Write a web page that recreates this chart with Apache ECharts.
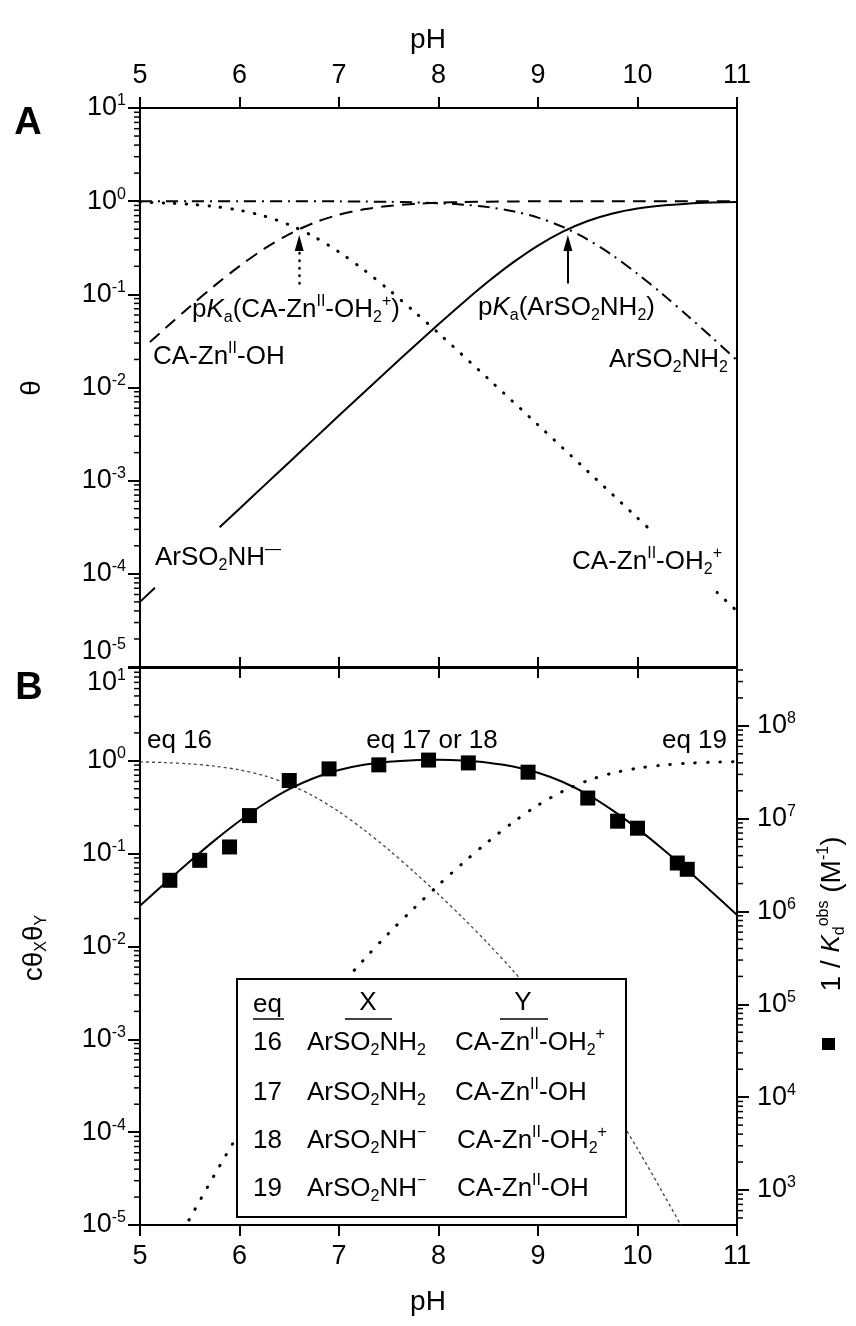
<!DOCTYPE html>
<html><head><meta charset="utf-8">
<script src="https://cdn.jsdelivr.net/npm/echarts@6/dist/echarts.min.js"></script>
<style>html,body{margin:0;padding:0;background:#fff}#c{width:856px;height:1326px}</style>
</head><body><div id="c"></div>
<script>
// ---------- DATA ----------
const xTicks = [5, 6, 7, 8, 9, 10, 11];
const yTicksTheta = [1e-5, 1e-4, 1e-3, 1e-2, 1e-1, 1, 10];
const yTicksK = [1e3, 1e4, 1e5, 1e6, 1e7, 1e8];

// Panel A: fractions theta vs pH
const pH_NHm = [5.0, 5.15, 5.5, 5.8, 6.0, 6.25, 6.5, 6.75, 7.0, 7.25, 7.5, 7.75, 8.0, 8.25, 8.5, 8.75, 9.0, 9.25, 9.5, 9.75, 10.0, 10.25, 10.5, 10.75, 11.0];
const th_NHm = [5.0e-5, 7.1e-5, null, 3.16e-4, 5.0e-4, 8.9e-4, 1.58e-3, 2.81e-3, 5.0e-3, 8.83e-3, 0.0156, 0.0274, 0.0477, 0.0818, 0.137, 0.220, 0.334, 0.471, 0.613, 0.738, 0.834, 0.899, 0.941, 0.966, 0.980];

const pH_NH2 = [5.0, 5.5, 6.0, 6.5, 7.0, 7.25, 7.5, 7.75, 8.0, 8.25, 8.5, 8.75, 9.0, 9.25, 9.5, 9.75, 10.0, 10.25, 10.5, 10.75, 11.0];
const th_NH2 = [1.0, 0.9998, 0.9995, 0.998, 0.995, 0.991, 0.984, 0.973, 0.952, 0.918, 0.863, 0.780, 0.666, 0.529, 0.387, 0.262, 0.166, 0.101, 0.0594, 0.0343, 0.0196];

const pH_ZnOH = [5.1, 5.25, 5.5, 5.75, 6.0, 6.25, 6.5, 6.75, 7.0, 7.25, 7.5, 7.75, 8.0, 8.25, 8.5, 8.75, 9.0, 9.5, 10.0, 10.5, 11.0];
const th_ZnOH = [0.0307, 0.0428, 0.0736, 0.124, 0.201, 0.309, 0.443, 0.586, 0.715, 0.817, 0.888, 0.934, 0.962, 0.978, 0.988, 0.993, 0.996, 0.999, 1.0, 1.0, 1.0];

const pH_ZnOH2 = [5.0, 5.25, 5.5, 5.75, 6.0, 6.25, 6.5, 6.75, 7.0, 7.25, 7.5, 7.75, 8.0, 8.5, 9.0, 9.5, 10.0, 10.1, 10.45, 10.8, 11.0];
const th_ZnOH2 = [0.975, 0.957, 0.926, 0.876, 0.799, 0.691, 0.557, 0.415, 0.285, 0.183, 0.112, 0.0661, 0.0383, 0.0124, 3.97e-3, 1.26e-3, 3.98e-4, 3.16e-4, null, 6.31e-5, 3.98e-5];

// Panel B
const pH_fit = [5.0, 5.25, 5.5, 5.75, 6.0, 6.25, 6.5, 6.75, 7.0, 7.25, 7.5, 7.75, 8.0, 8.25, 8.5, 8.75, 9.0, 9.25, 9.5, 9.75, 10.0, 10.25, 10.5, 10.75, 11.0];
const fitB = [0.0274, 0.0479, 0.0824, 0.139, 0.225, 0.345, 0.495, 0.654, 0.797, 0.907, 0.979, 1.017, 1.026, 1.006, 0.955, 0.868, 0.743, 0.591, 0.433, 0.293, 0.186, 0.113, 0.0665, 0.0384, 0.0219];

const pH_eq16 = [5.0, 5.25, 5.5, 5.75, 6.0, 6.25, 6.5, 6.75, 7.0, 7.25, 7.5, 7.75, 8.0, 8.25, 8.5, 8.75, 9.0, 9.25, 9.5, 9.75, 10.0, 10.25, 10.5];
const eq16 = [0.976, 0.957, 0.926, 0.876, 0.799, 0.691, 0.556, 0.413, 0.283, 0.181, 0.110, 0.0643, 0.0365, 0.0201, 0.0107, 5.48e-3, 2.64e-3, 1.18e-3, 4.87e-4, 1.85e-4, 6.62e-5, 2.26e-5, 7.5e-6];

const pH_eq19 = [5.25, 5.5, 5.75, 6.0, 6.25, 6.5, 6.75, 7.0, 7.25, 7.5, 7.75, 8.0, 8.25, 8.5, 8.75, 9.0, 9.25, 9.5, 9.75, 10.0, 10.25, 10.5, 10.75, 11.0];
const eq19 = [3.8e-6, 1.17e-5, 3.49e-5, 1.00e-4, 2.75e-4, 7.01e-4, 1.65e-3, 3.58e-3, 7.22e-3, 0.0139, 0.0256, 0.0459, 0.080, 0.135, 0.218, 0.333, 0.470, 0.612, 0.738, 0.833, 0.898, 0.941, 0.966, 0.980];

// measured 1/Kd(obs), M^-1 (right axis)
const pH_obs = [5.30, 5.60, 5.90, 6.10, 6.50, 6.90, 7.40, 7.90, 8.30, 8.90, 9.50, 9.80, 10.00, 10.40, 10.50];
const invKd = [2.17e6, 3.56e6, 4.96e6, 1.08e7, 2.58e7, 3.44e7, 3.80e7, 4.28e7, 3.99e7, 3.17e7, 1.67e7, 9.4e6, 7.9e6, 3.33e6, 2.85e6];

// pKa arrows
const pKaZn = 6.6, pKaS = 9.3;

// ---------- BUILD ----------
const F = '"Liberation Sans", Arial, Helvetica, sans-serif';
const zip = (a, b) => a.map((x, i) => [x, b[i]]);
const chart = echarts.init(document.getElementById('c'), null, {renderer: 'canvas'});

function powFmt(v) {
  const l = Math.log10(v), e = Math.round(l);
  if (Math.abs(l - e) > 1e-6) return '';
  return '{b|10}{s|' + e + '}';
}
const labRich = {
  b: {fontSize: 27, fontFamily: F, lineHeight: 30, color: '#000'},
  s: {fontSize: 16, fontFamily: F, lineHeight: 14, verticalAlign: 'top', color: '#000'}
};
function minorVals(lo, hi) {
  const out = [];
  for (let d = Math.floor(Math.log10(lo)); d <= Math.ceil(Math.log10(hi)); d++)
    for (let k = 2; k <= 9; k++) { const v = k * Math.pow(10, d); if (v > lo * 1.0001 && v < hi * 0.9999) out.push(v); }
  return out;
}
const axLine = {show: true, lineStyle: {color: '#000', width: 2}};
const tickStyle = {color: '#000', width: 2};

const xBase = {type: 'value', min: 5, max: 11, interval: 1, splitLine: {show: false}, axisLine: axLine};
const xAxes = [
  Object.assign({}, xBase, {gridIndex: 0, position: 'bottom', axisLabel: {show: false}, axisTick: {inside: true, length: 10, lineStyle: tickStyle}}),
  Object.assign({}, xBase, {gridIndex: 0, position: 'top', axisLabel: {fontSize: 27, fontFamily: F, color: '#000', margin: 19}, axisTick: {inside: false, length: 11, lineStyle: tickStyle}}),
  Object.assign({}, xBase, {gridIndex: 1, position: 'bottom', axisLabel: {fontSize: 27, fontFamily: F, color: '#000', margin: 18}, axisTick: {inside: false, length: 11, lineStyle: tickStyle}}),
  Object.assign({}, xBase, {gridIndex: 1, position: 'top', axisLabel: {show: false}, axisTick: {inside: true, length: 10, lineStyle: tickStyle}})
];
const yAxes = [
  {type: 'log', gridIndex: 0, min: yTicksTheta[0], max: yTicksTheta[yTicksTheta.length - 1], logBase: 10, interval: 1, position: 'left',
   axisLine: axLine, splitLine: {show: false}, axisTick: {length: 12, lineStyle: tickStyle},
   axisLabel: {formatter: powFmt, rich: labRich, margin: 14, verticalAlignMinLabel: 'bottom'}},
  {type: 'value', gridIndex: 0, min: 0, max: 1, position: 'right', axisLine: axLine, axisTick: {show: false}, axisLabel: {show: false}, splitLine: {show: false}},
  {type: 'log', gridIndex: 1, min: yTicksTheta[0], max: yTicksTheta[yTicksTheta.length - 1], logBase: 10, interval: 1, position: 'left',
   axisLine: axLine, splitLine: {show: false}, axisTick: {length: 12, lineStyle: tickStyle},
   axisLabel: {formatter: powFmt, rich: labRich, margin: 14, verticalAlignMaxLabel: 'top'}},
  {type: 'log', gridIndex: 1, min: 420, max: 4.2e8, logBase: 10, splitNumber: 6, position: 'right',
   axisLine: axLine, splitLine: {show: false}, axisTick: {length: 12, lineStyle: tickStyle},
   axisLabel: {formatter: powFmt, rich: labRich, margin: 20, showMinLabel: false, showMaxLabel: false}}
];

function tickSeries(xi, yi, xv, vals, dir) {
  return {
    type: 'custom', xAxisIndex: xi, yAxisIndex: yi, clip: false, silent: true, z: 5, animation: false,
    renderItem: (params, api) => {
      const p = api.coord([api.value(0), api.value(1)]);
      return {type: 'line', shape: {x1: p[0], y1: p[1], x2: p[0] + dir * 6, y2: p[1]}, style: {stroke: '#000', lineWidth: 1.5}};
    },
    data: vals.map(v => [xv, v])
  };
}

const lineBase = {type: 'line', showSymbol: false, symbol: 'none', smooth: 0.3, connectNulls: false, silent: true, animation: false};
const series = [
  Object.assign({}, lineBase, {name: 'ArSO2NH-', xAxisIndex: 0, yAxisIndex: 0, data: zip(pH_NHm, th_NHm),
    lineStyle: {color: '#000', width: 2},
    markLine: {silent: true, animation: false, symbol: ['none', 'triangle'], symbolSize: [9, 16], label: {show: false},
      lineStyle: {color: '#000', width: 2, type: 'solid'},
      data: [[{coord: [pKaS, 0.131]}, {coord: [pKaS, 0.355]}]]}}),
  Object.assign({}, lineBase, {name: 'ArSO2NH2', xAxisIndex: 0, yAxisIndex: 0, data: zip(pH_NH2, th_NH2),
    lineStyle: {color: '#000', width: 2, type: [12, 6, 2, 6]}}),
  Object.assign({}, lineBase, {name: 'ZnOH', xAxisIndex: 0, yAxisIndex: 0, data: zip(pH_ZnOH, th_ZnOH),
    lineStyle: {color: '#000', width: 2, type: [13, 8]}}),
  Object.assign({}, lineBase, {name: 'ZnOH2', xAxisIndex: 0, yAxisIndex: 0, data: zip(pH_ZnOH2, th_ZnOH2),
    lineStyle: {color: '#000', width: 3, type: [0.5, 11], cap: 'round'},
    markLine: {silent: true, animation: false, symbol: ['none', 'triangle'], symbolSize: [9, 16], label: {show: false},
      lineStyle: {color: '#000', width: 2.5, type: [0.5, 7], cap: 'round'},
      data: [[{coord: [pKaZn, 0.131]}, {coord: [pKaZn, 0.355]}]]}}),
  Object.assign({}, lineBase, {name: 'fit', xAxisIndex: 2, yAxisIndex: 2, data: zip(pH_fit, fitB),
    lineStyle: {color: '#000', width: 2}}),
  Object.assign({}, lineBase, {name: 'eq16', xAxisIndex: 2, yAxisIndex: 2, data: zip(pH_eq16, eq16),
    lineStyle: {color: '#444', width: 1.3, type: [3, 3]}}),
  Object.assign({}, lineBase, {name: 'eq19', xAxisIndex: 2, yAxisIndex: 2, data: zip(pH_eq19, eq19),
    lineStyle: {color: '#000', width: 3, type: [0.5, 12], cap: 'round'}}),
  {type: 'scatter', name: 'obs', xAxisIndex: 2, yAxisIndex: 3, data: zip(pH_obs, invKd), symbol: 'rect', symbolSize: 15,
    itemStyle: {color: '#000', opacity: 1}, z: 6, silent: true, animation: false},
  tickSeries(0, 0, 5, minorVals(1e-5, 10), -1),
  tickSeries(2, 2, 5, minorVals(1e-5, 10), -1),
  tickSeries(2, 3, 11, minorVals(420, 4.2e8), 1)
];

const R = {
  n: {fontSize: 26, fontFamily: F, lineHeight: 32, fill: '#000'},
  t: {fontSize: 28, fontFamily: F, lineHeight: 32, fill: '#000'},
  i: {fontSize: 26, fontFamily: F, fontStyle: 'italic', lineHeight: 32, fill: '#000'},
  sub: {fontSize: 16, fontFamily: F, lineHeight: 14, verticalAlign: 'bottom', fill: '#000'},
  sup: {fontSize: 16, fontFamily: F, lineHeight: 14, verticalAlign: 'top', fill: '#000'},
  bold: {fontSize: 38, fontFamily: F, fontWeight: 'bold', lineHeight: 40, fill: '#000'}
};
function T(x, y, text, align, extra) {
  return Object.assign({type: 'text', x: x, y: y, z: 110, silent: true,
    style: {text: text, rich: R, align: align || 'left', verticalAlign: 'middle', fill: '#000', font: '26px ' + F}}, extra || {});
}
const graphic = [
  T(28, 124, '{bold|A}', 'center'),
  T(29, 689, '{bold|B}', 'center'),
  T(32, 388, '{t|θ}', 'center', {rotation: Math.PI / 2}),
  T(34, 948, '{t|cθ}{sub|X}{t|θ}{sub|Y}', 'center', {rotation: Math.PI / 2}),
  T(832, 914, '{t|1 / }{i|K}{sub|d}{sup|obs}{t| (M}{sup|-1}{t|)}', 'center', {rotation: Math.PI / 2}),
  {type: 'rect', z: 110, silent: true, shape: {x: 822, y: 1038, width: 13, height: 12}, style: {fill: '#000'}},
  T(192, 310, '{n|p}{i|K}{sub|a}{n|(CA-Zn}{sup|II}{n|-OH}{sub|2}{sup|+}{n|)}'),
  T(153, 357, '{n|CA-Zn}{sup|II}{n|-OH}'),
  T(478, 308, '{n|p}{i|K}{sub|a}{n|(ArSO}{sub|2}{n|NH}{sub|2}{n|)}'),
  T(728, 360, '{n|ArSO}{sub|2}{n|NH}{sub|2}', 'right'),
  T(155, 558, '{n|ArSO}{sub|2}{n|NH}{sup|—}'),
  T(722, 562, '{n|CA-Zn}{sup|II}{n|-OH}{sub|2}{sup|+}', 'right'),
  T(147, 741, '{n|eq 16}'),
  T(432, 741, '{n|eq 17 or 18}', 'center'),
  T(727, 741, '{n|eq 19}', 'right'),
  // legend table
  {type: 'rect', z: 100, silent: true, shape: {x: 237, y: 979, width: 389, height: 238}, style: {fill: '#fff', stroke: '#000', lineWidth: 2}},
  T(253, 1005, '{n|eq}'),
  T(368, 1003, '{n|X}', 'center'),
  T(523, 1003, '{n|Y}', 'center'),
  {type: 'line', z: 110, silent: true, shape: {x1: 253, y1: 1019, x2: 284, y2: 1019}, style: {stroke: '#000', lineWidth: 1.5}},
  {type: 'line', z: 110, silent: true, shape: {x1: 345, y1: 1019, x2: 392, y2: 1019}, style: {stroke: '#000', lineWidth: 1.5}},
  {type: 'line', z: 110, silent: true, shape: {x1: 500, y1: 1019, x2: 548, y2: 1019}, style: {stroke: '#000', lineWidth: 1.5}},
  T(253, 1043, '{n|16}'), T(307, 1043, '{n|ArSO}{sub|2}{n|NH}{sub|2}'), T(455, 1043, '{n|CA-Zn}{sup|II}{n|-OH}{sub|2}{sup|+}'),
  T(253, 1093, '{n|17}'), T(307, 1093, '{n|ArSO}{sub|2}{n|NH}{sub|2}'), T(455, 1093, '{n|CA-Zn}{sup|II}{n|-OH}'),
  T(253, 1141, '{n|18}'), T(307, 1141, '{n|ArSO}{sub|2}{n|NH}{sup|−}'), T(457, 1141, '{n|CA-Zn}{sup|II}{n|-OH}{sub|2}{sup|+}'),
  T(253, 1189, '{n|19}'), T(307, 1189, '{n|ArSO}{sub|2}{n|NH}{sup|−}'), T(457, 1189, '{n|CA-Zn}{sup|II}{n|-OH}'),
  // x-axis names
  T(428, 40, '{t|pH}', 'center'),
  T(428, 1302, '{t|pH}', 'center')
];

chart.setOption({
  animation: false,
  backgroundColor: '#fff',
  grid: [
    {left: 140, right: 119, top: 108, height: 559, outerBoundsMode: 'none', containLabel: false},
    {left: 140, right: 119, top: 668, height: 557, outerBoundsMode: 'none', containLabel: false}
  ],
  xAxis: xAxes,
  yAxis: yAxes,
  series: series,
  graphic: graphic
});
</script></body></html>
